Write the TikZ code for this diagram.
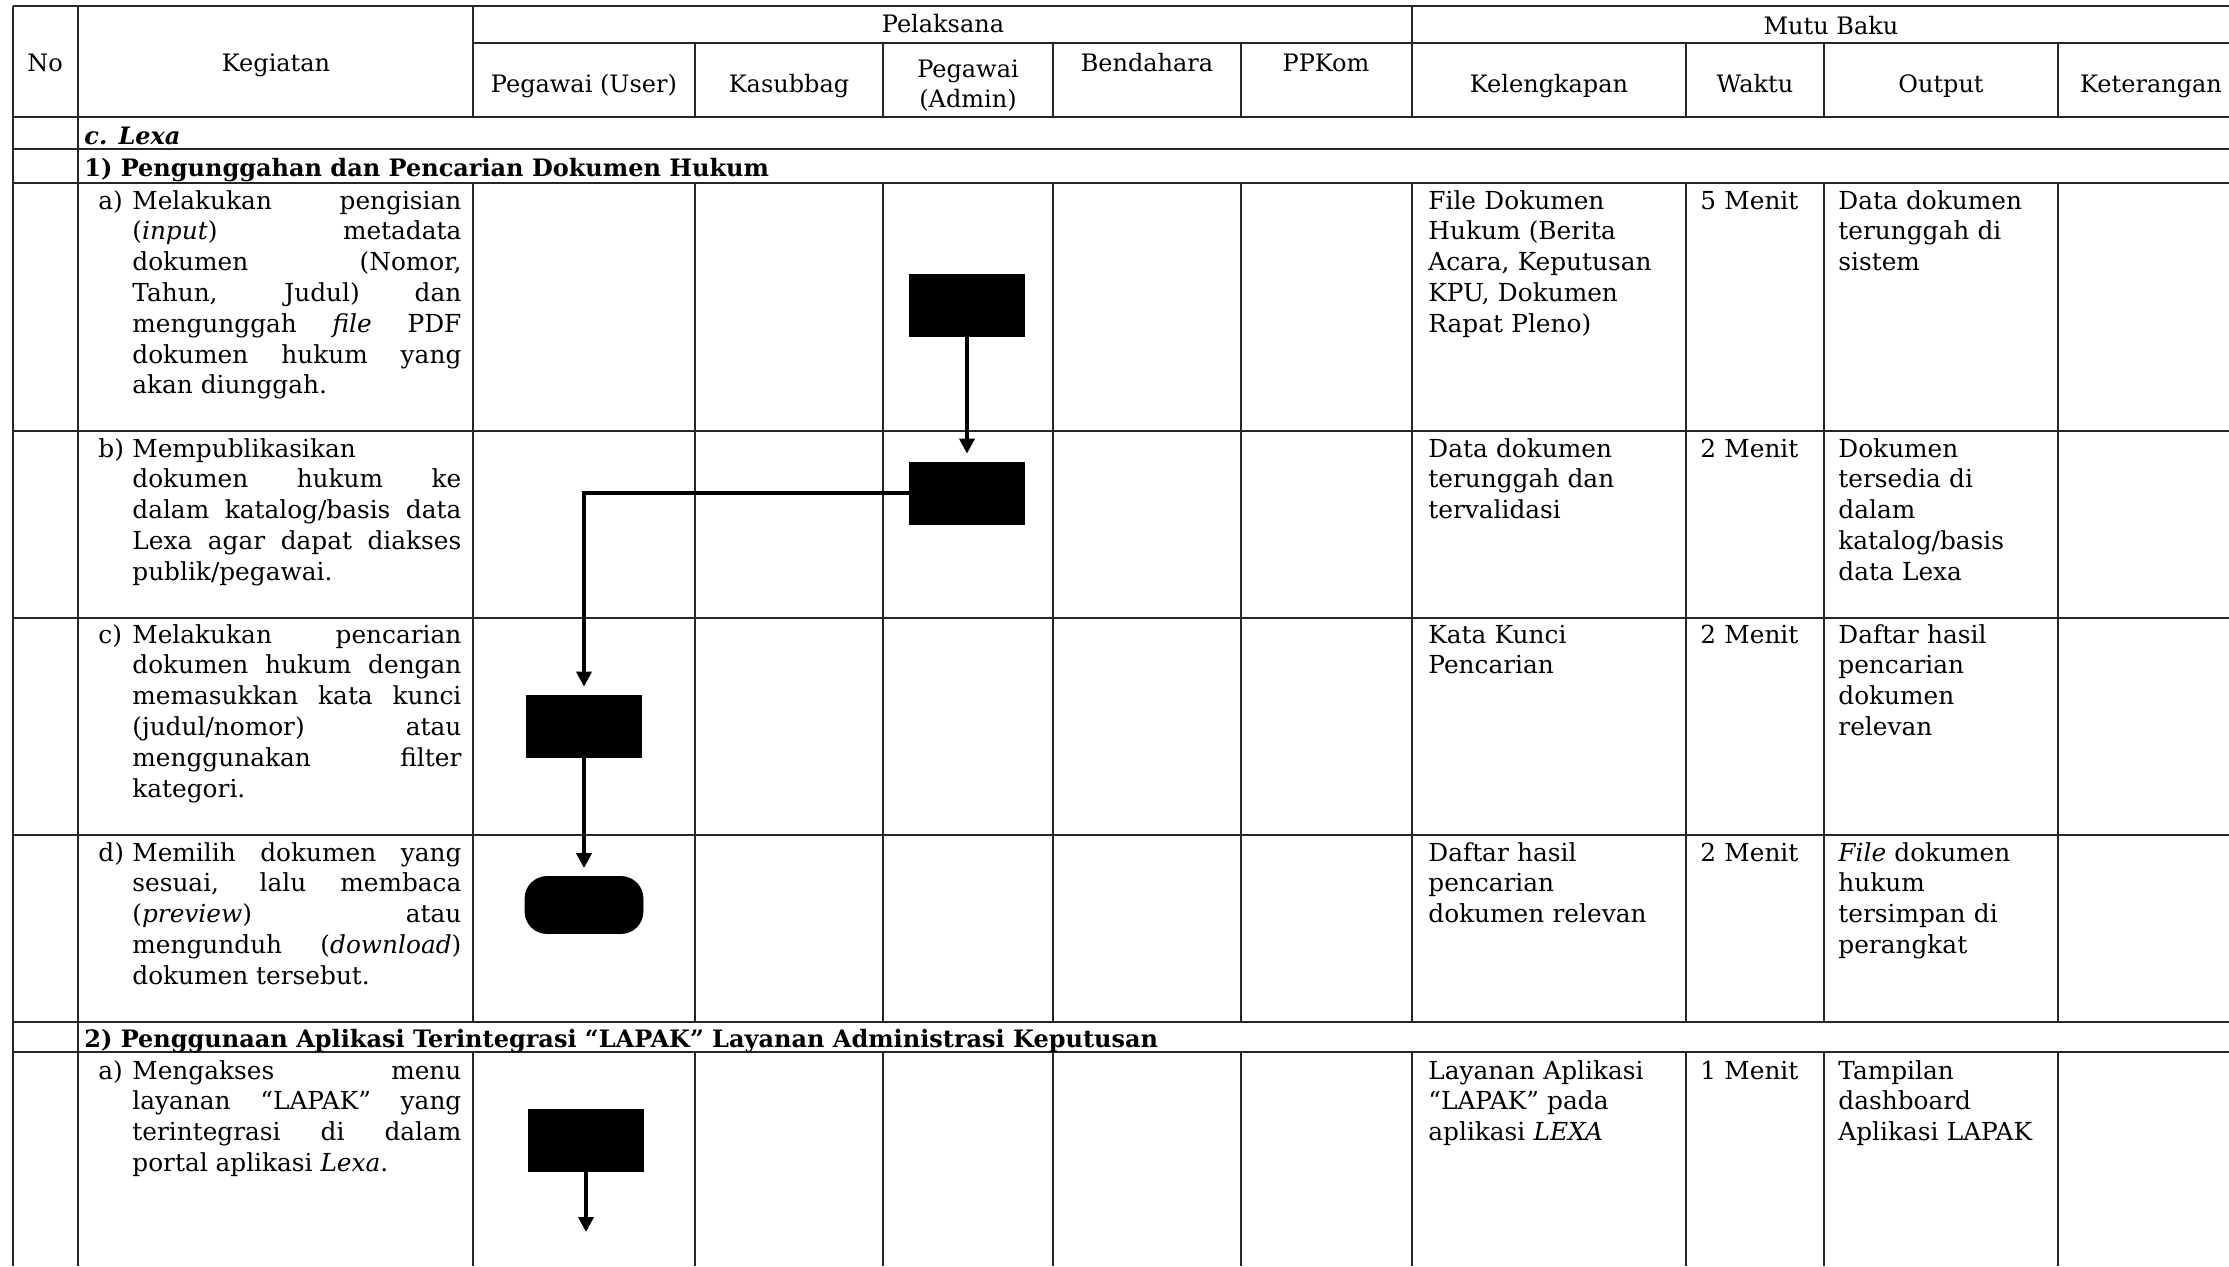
\documentclass[tikz,border=0pt]{standalone}
\usepackage{fontspec}
\setmainfont{DejaVu Serif}
\usepackage{tikz}
\usetikzlibrary{arrows.meta}
\newcommand{\txt}{\fontsize{12}{15.4}\selectfont}
\newcommand{\bodytxt}{\fontsize{12.4}{15.4}\selectfont}

\begin{document}
\begin{tikzpicture}[x=0.5pt, y=-0.5pt,
  tline/.style={line width=0.85pt, black!85},
  rowline/.style={line width=1.2pt, black!85},
  hd/.style={anchor=base, font=\txt, inner sep=0pt},
  lbl/.style={anchor=base west, font=\bodytxt, inner sep=0pt},
  keg/.style={anchor=base west, font=\bodytxt, inner sep=0pt, text width=164.5pt, align=justify},
  cell/.style={anchor=base west, font=\bodytxt, inner sep=0pt, text width=#1, align=left},
  sect/.style={anchor=base west, font=\txt\bfseries, inner sep=0pt},
  proc/.style={fill=black, draw=black, minimum width=57.5pt, minimum height=31pt, inner sep=0pt},
  term/.style={fill=black, draw=black, rounded corners=11pt, minimum width=59pt, minimum height=28.5pt, inner sep=0pt},
  flow/.style={line width=2pt, shorten >=4pt, -{Triangle[length=7.5pt,width=7.5pt]}}]
\useasboundingbox[fill=white] (0,0) rectangle (2229,1266);

\draw[rowline] (12.8,6) -- (2229,6);
\foreach \y in {117,149,183,431,618,835,1022,1052}
  \draw[rowline] (12.8,\y) -- (2229,\y);
\draw[tline] (473,43) -- (2229,43);
\foreach \x in {12.8,78}
  \draw[tline] (\x,6) -- (\x,1266);
\foreach \x in {473,1412}
  \draw[tline] (\x,6) -- (\x,117);
\foreach \x in {695,883,1053,1241,1686,1824,2058}
  \draw[tline] (\x,43) -- (\x,117);
\foreach \x in {473,695,883,1053,1241,1412,1686,1824,2058} {
  \draw[tline] (\x,183) -- (\x,1022);
  \draw[tline] (\x,1052) -- (\x,1266);
}

\node[hd] (no) at (45,71) {No};
\node[hd] (kegiatan) at (276,71) {Kegiatan};
\node[hd] (pelaksana) at (943,32) {Pelaksana};
\node[hd] (mutu) at (1831,34.5) {Mutu Baku};
\node[hd] (user) at (584,92.5) {Pegawai (User)};
\node[hd] (kasubbag) at (789,92.5) {Kasubbag};
\node[hd, text width=80pt, align=center] (admin) at (968,77) {Pegawai\\(Admin)};
\node[hd] (bendahara) at (1147,71.5) {Bendahara};
\node[hd] (ppkom) at (1326,71.5) {PPKom};
\node[hd] (kelengkapan) at (1549,92.5) {Kelengkapan};
\node[hd] (waktu) at (1755,92.5) {Waktu};
\node[hd] (output) at (1941,92.5) {Output};
\node[hd] (keterangan) at (2151,92.5) {Keterangan};

\node[sect, font=\txt\bfseries\itshape] (lexa) at (84,144.5) {c. Lexa};
\node[sect] (sec1) at (84,176.5) {1) Pengunggahan dan Pencarian Dokumen Hukum};
\node[sect] (sec2) at (84,1047.5) {2) Penggunaan Aplikasi Terintegrasi ``LAPAK'' Layanan Administrasi Keputusan};

\node[lbl] (la) at (98,209) {a)};
\node[keg] (kega) at (132,209) {Melakukan pengisian\linebreak (\textit{input}) metadata\linebreak dokumen (Nomor,\linebreak Tahun, Judul) dan\linebreak mengunggah \textit{file} PDF\linebreak dokumen hukum yang\linebreak akan diunggah.};
\node[cell=129pt] (kela) at (1428,209) {File Dokumen\\Hukum (Berita\\Acara, Keputusan\\KPU, Dokumen\\Rapat Pleno)};
\node[cell=62pt] (waka) at (1700,209) {5 Menit};
\node[cell=112pt] (outa) at (1838,209) {Data dokumen\\terunggah di\\sistem};

\node[lbl] (lb) at (98,457) {b)};
\node[keg] (kegb) at (132,457) {Mempublikasikan\\dokumen hukum ke\linebreak dalam katalog/basis data\linebreak Lexa agar dapat diakses\linebreak publik/pegawai.};
\node[cell=129pt] (kelb) at (1428,457) {Data dokumen\\terunggah dan\\tervalidasi};
\node[cell=62pt] (wakb) at (1700,457) {2 Menit};
\node[cell=112pt] (outb) at (1838,457) {Dokumen\\tersedia di\\dalam\\katalog/basis\\data Lexa};

\node[lbl] (lc) at (98,643) {c)};
\node[keg] (kegc) at (132,643) {Melakukan pencarian\linebreak dokumen hukum dengan\linebreak memasukkan kata kunci\linebreak (judul/nomor) atau\linebreak menggunakan filter\linebreak kategori.};
\node[cell=129pt] (kelc) at (1428,643) {Kata Kunci\\Pencarian};
\node[cell=62pt] (wakc) at (1700,643) {2 Menit};
\node[cell=112pt] (outc) at (1838,643) {Daftar hasil\\pencarian\\dokumen\\relevan};

\node[lbl] (ld) at (98,861) {d)};
\node[keg] (kegd) at (132,861) {Memilih dokumen yang\linebreak sesuai, lalu membaca\linebreak (\textit{preview}) atau\linebreak mengunduh (\textit{download})\linebreak dokumen tersebut.};
\node[cell=129pt] (keld) at (1428,861) {Daftar hasil\\pencarian\\dokumen relevan};
\node[cell=62pt] (wakd) at (1700,861) {2 Menit};
\node[cell=112pt] (outd) at (1838,861) {\textit{File} dokumen\\hukum\\tersimpan di\\perangkat};

\node[lbl] (le) at (98,1079) {a)};
\node[keg] (kege) at (132,1079) {Mengakses menu\linebreak layanan ``LAPAK'' yang\linebreak terintegrasi di dalam\linebreak portal aplikasi \textit{Lexa}.};
\node[cell=129pt] (kele) at (1428,1079) {Layanan Aplikasi\\``LAPAK'' pada\\aplikasi \textit{LEXA}};
\node[cell=62pt] (wake) at (1700,1079) {1 Menit};
\node[cell=112pt] (oute) at (1838,1079) {Tampilan\\dashboard\\Aplikasi LAPAK};

\node[proc] (adm1) at (967,305) {};
\node[proc] (adm2) at (967,493) {};
\node[proc] (usr1) at (584,726) {};
\node[term] (usr2) at (584,905) {};
\node[proc] (usr3) at (586,1140) {};
\coordinate (usr4) at (586,1240);
\draw[flow] (adm1) -- (adm2);
\draw[flow] (adm2.west) -| (usr1.north);
\draw[flow] (usr1) -- (usr2);
\draw[flow] (usr3) -- (usr4);
\end{tikzpicture}
\end{document}
